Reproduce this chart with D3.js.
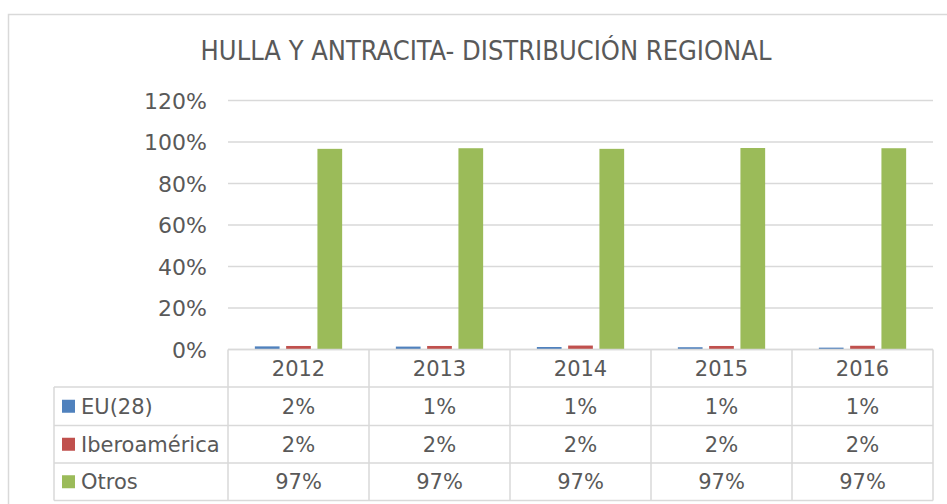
<!DOCTYPE html>
<html>
<head>
<meta charset="utf-8">
<script src="https://cdn.jsdelivr.net/npm/d3@7"></script>
<style>
  body { margin: 0; background: #fff; }
  text { font-family: "DejaVu Sans", Verdana, sans-serif; fill: #595959; }
</style>
</head>
<body>
<svg id="chart" width="947" height="504"></svg>
<script>
// Data
const years = ['2012', '2013', '2014', '2015', '2016'];
const seriesNames = ['EU(28)', 'Iberoamérica', 'Otros'];
const euValues = [0.015, 0.014, 0.012, 0.011, 0.009];
const iberoValues = [0.017, 0.017, 0.019, 0.017, 0.018];
const otrosValues = [0.967, 0.970, 0.967, 0.971, 0.970];
const tableLabels = [
    ['2%', '1%', '1%', '1%', '1%'],
    ['2%', '2%', '2%', '2%', '2%'],
    ['97%', '97%', '97%', '97%', '97%']
];
const yTicks = [0, 0.2, 0.4, 0.6, 0.8, 1.0, 1.2];
const colors = ['#4F81BD', '#C0504D', '#9BBB59'];

const series = [euValues, iberoValues, otrosValues];
const gridColor = '#d9d9d9';

const svg = d3.select('#chart');

// Outer chart frame
svg.append('rect')
    .attr('x', 8.5).attr('y', 14.5)
    .attr('width', 960).attr('height', 520)
    .attr('fill', 'none')
    .attr('stroke', gridColor)
    .attr('stroke-width', 1.5);

// Title
svg.append('text')
    .attr('x', 486).attr('y', 60)
    .attr('text-anchor', 'middle')
    .style('font-family', '"DejaVu Sans Condensed", "DejaVu Sans", sans-serif')
    .style('font-size', '27px')
    .text('HULLA Y ANTRACITA- DISTRIBUCIÓN REGIONAL');

// Scales
const plotLeft = 228, plotRight = 933;
const x0 = d3.scaleBand().domain(years).range([plotLeft, plotRight]);
const x1 = d3.scaleBand().domain(seriesNames).range([0, 87.3]).paddingInner(0.21);
const y = d3.scaleLinear().domain([0, 1.2]).range([349.5, 100.5]);

// Gridlines
svg.append('g')
    .selectAll('line')
    .data(yTicks)
    .join('line')
    .attr('x1', plotLeft).attr('x2', plotRight)
    .attr('y1', d => y(d)).attr('y2', d => y(d))
    .attr('stroke', gridColor)
    .attr('stroke-width', 1.5);

// Y axis labels
const yAxis = svg.append('g')
    .attr('transform', `translate(${plotLeft - 21},0)`)
    .call(d3.axisLeft(y).tickValues(yTicks).tickFormat(d3.format('.0%')).tickSize(0));
yAxis.select('.domain').remove();
yAxis.selectAll('text')
    .attr('x', 0)
    .attr('dy', '0.36em')
    .style('font-size', '22px')
    .style('font-family', '"DejaVu Sans", sans-serif')
    .attr('fill', '#595959');

// Bars
const groupOffset = (x0.bandwidth() - 87.3) / 2;
svg.append('g')
    .selectAll('g')
    .data(seriesNames.map((name, i) => ({ name, i, values: series[i] })))
    .join('g')
    .attr('fill', d => colors[d.i])
    .selectAll('rect')
    .data(d => d.values.map((v, j) => ({ name: d.name, year: years[j], v })))
    .join('rect')
    .attr('x', d => x0(d.year) + groupOffset + x1(d.name))
    .attr('width', x1.bandwidth())
    .attr('y', d => y(d.v))
    .attr('height', d => y(0) - y(d.v));

// Data table
const rowEdges = [349.5, 387, 425.5, 463, 500.5];
const tableLeft = 54;
const table = svg.append('g');

// horizontal lines
rowEdges.forEach((ry, i) => {
    table.append('line')
        .attr('x1', i === 0 ? plotLeft : tableLeft).attr('x2', plotRight)
        .attr('y1', ry).attr('y2', ry)
        .attr('stroke', gridColor).attr('stroke-width', 1.5);
});
// vertical lines
const colEdges = years.map(yr => x0(yr)).concat([plotRight]);
colEdges.forEach(cx => {
    table.append('line')
        .attr('x1', cx).attr('x2', cx)
        .attr('y1', rowEdges[0]).attr('y2', rowEdges[4])
        .attr('stroke', gridColor).attr('stroke-width', 1.5);
});
table.append('line')
    .attr('x1', tableLeft).attr('x2', tableLeft)
    .attr('y1', rowEdges[1]).attr('y2', rowEdges[4])
    .attr('stroke', gridColor).attr('stroke-width', 1.5);

// year header
table.selectAll('text.year')
    .data(years)
    .join('text')
    .attr('class', 'year')
    .attr('x', d => x0(d) + x0.bandwidth() / 2)
    .attr('y', (rowEdges[0] + rowEdges[1]) / 2)
    .attr('dy', '0.36em')
    .attr('text-anchor', 'middle')
    .style('font-size', '21px')
    .text(d => d);

// series rows
seriesNames.forEach((name, i) => {
    const cy = (rowEdges[i + 1] + rowEdges[i + 2]) / 2;
    table.append('rect')
        .attr('x', 62).attr('y', cy - 6.5)
        .attr('width', 13).attr('height', 13)
        .attr('fill', colors[i]);
    table.append('text')
        .attr('x', 81).attr('y', cy)
        .attr('dy', '0.36em')
        .style('font-size', '21px')
        .text(name);
    table.selectAll(`text.val${i}`)
        .data(tableLabels[i])
        .join('text')
        .attr('class', `val${i}`)
        .attr('x', (d, j) => x0(years[j]) + x0.bandwidth() / 2)
        .attr('y', cy)
        .attr('dy', '0.36em')
        .attr('text-anchor', 'middle')
        .style('font-size', '21px')
        .text(d => d);
});
</script>
</body>
</html>
